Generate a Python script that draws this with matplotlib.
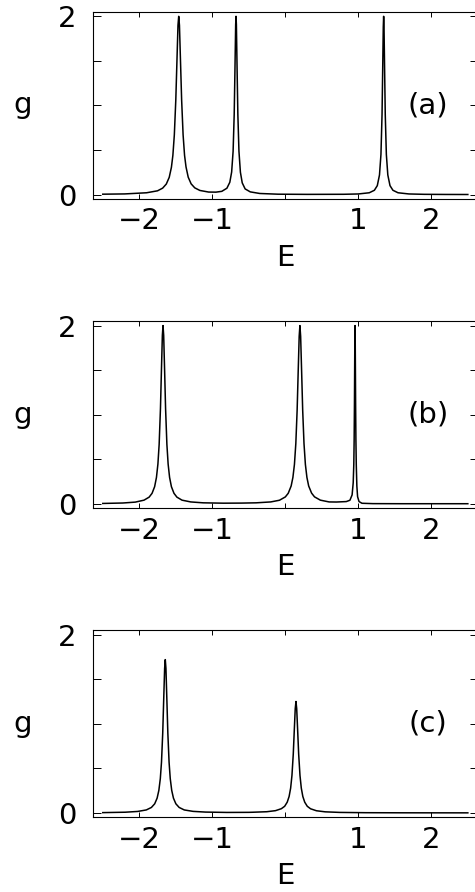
import matplotlib
matplotlib.use("Agg")
import matplotlib.pyplot as plt

# ---- data (E, g) ----
E_a = [-2.5, -2.2, -1.9, -1.75, -1.68, -1.63, -1.59, -1.56, -1.54, -1.52, -1.50,
       -1.485, -1.47, -1.46, -1.45, -1.435, -1.42, -1.40, -1.38, -1.36, -1.33,
       -1.29, -1.24, -1.17, -1.05, -0.95, -0.87, -0.80, -0.76, -0.735, -0.715,
       -0.70, -0.69, -0.68, -0.675, -0.67, -0.66, -0.65, -0.635, -0.615, -0.59,
       -0.55, -0.48, -0.35, -0.1, 0.3, 0.8, 1.0, 1.15, 1.22, 1.26, 1.29, 1.31,
       1.325, 1.335, 1.342, 1.347, 1.352, 1.359, 1.369, 1.384, 1.404, 1.434,
       1.474, 1.544, 1.694, 1.9, 2.2, 2.5]
g_a = [0.004, 0.007, 0.02, 0.042, 0.072, 0.118, 0.193, 0.306, 0.44, 0.67, 1.06,
       1.48, 1.90, 2.0, 1.90, 1.48, 1.06, 0.67, 0.44, 0.31, 0.195,
       0.12, 0.075, 0.046, 0.028, 0.027, 0.036, 0.071, 0.138, 0.253, 0.486,
       0.90, 1.385, 1.906, 2.0, 1.906, 1.385, 0.90, 0.486, 0.25, 0.131,
       0.063, 0.03, 0.012, 0.004, 0.002, 0.003, 0.0066, 0.020, 0.048, 0.10, 0.22, 0.45,
       0.90, 1.47, 1.88, 2.0, 1.88, 1.47, 0.90, 0.45, 0.22, 0.10,
       0.048, 0.020, 0.0066, 0.0026, 0.0011, 0.0005]

E_b = [-2.5, -2.225, -2.055, -1.935, -1.865, -1.825, -1.79, -1.765, -1.745, -1.728,
       -1.71, -1.697, -1.684, -1.675, -1.666, -1.653, -1.64, -1.622, -1.605, -1.585,
       -1.56, -1.525, -1.485, -1.415, -1.295, -1.125, -0.85, -0.6, -0.4, -0.2,
       -0.08, 0.0, 0.04, 0.08, 0.104, 0.125, 0.144, 0.162, 0.176, 0.19, 0.20,
       0.21, 0.224, 0.238, 0.256, 0.275, 0.296, 0.32, 0.36, 0.40, 0.48, 0.6,
       0.7, 0.835, 0.885, 0.915, 0.93, 0.938, 0.943, 0.947, 0.950, 0.953, 0.955,
       0.957, 0.960, 0.963, 0.967, 0.972, 0.98, 0.99, 1.01, 1.05, 1.2, 1.6, 2.0, 2.5]
g_b = [0.004, 0.009, 0.019, 0.041, 0.075, 0.118, 0.192, 0.296, 0.446, 0.667,
       1.07, 1.49, 1.89, 2.0, 1.89, 1.49, 1.07, 0.667, 0.446, 0.296,
       0.192, 0.118, 0.075, 0.041, 0.021, 0.011, 0.007, 0.008, 0.011, 0.021,
       0.04, 0.077, 0.118, 0.2, 0.296, 0.442, 0.676, 1.05, 1.47, 1.88, 2.0,
       1.88, 1.47, 1.05, 0.676, 0.442, 0.296, 0.2, 0.12, 0.078, 0.041, 0.021,
       0.02, 0.025, 0.04, 0.10, 0.236, 0.44, 0.72, 1.12, 1.53, 1.906, 2.0,
       1.906, 1.53, 1.12, 0.72, 0.44, 0.2, 0.08, 0.025, 0.006, 0.002, 0.001, 0.001, 0.001]

E_c = [-2.5, -2.194, -2.024, -1.904, -1.834, -1.789, -1.756, -1.732, -1.712, -1.696,
       -1.679, -1.665, -1.653, -1.644, -1.635, -1.623, -1.609, -1.592, -1.576, -1.556,
       -1.532, -1.499, -1.454, -1.384, -1.264, -1.094, -0.8, -0.5, -0.454, -0.254,
       -0.134, -0.054, -0.009, 0.026, 0.052, 0.073, 0.091, 0.109, 0.123, 0.136, 0.146,
       0.156, 0.169, 0.183, 0.201, 0.219, 0.24, 0.266, 0.301, 0.346, 0.426, 0.546,
       0.746, 1.1, 1.6, 2.0, 2.5]
g_c = [0.003, 0.0075, 0.016, 0.033, 0.061, 0.102, 0.165, 0.253, 0.385, 0.568,
       0.896, 1.29, 1.62, 1.72, 1.62, 1.29, 0.896, 0.568, 0.385, 0.253,
       0.165, 0.102, 0.061, 0.033, 0.017, 0.009, 0.005, 0.006, 0.007, 0.013,
       0.025, 0.047, 0.074, 0.12, 0.184, 0.278, 0.42, 0.659, 0.928, 1.17, 1.25,
       1.17, 0.928, 0.659, 0.42, 0.278, 0.184, 0.12, 0.074, 0.046, 0.024, 0.0118,
       0.0053, 0.0021, 0.0009, 0.0006, 0.0004]

panel_tags = ["(a)", "(b)", "(c)"]
x_ticks = [-2, -1, 0, 1, 2]
x_labels = ["\u22122", "\u22121", "", "1", "2"]
y_ticks = [0, 0.5, 1, 1.5, 2]
y_labels = ["0", "", "", "", "2"]

plt.rcParams["font.family"] = ["DejaVu Sans"]
FS = 21

fig = plt.figure(figsize=(4.75, 8.92), dpi=100)
bottoms = [0.7769, 0.4302, 0.0837]
curves = [(E_a, g_a), (E_b, g_b), (E_c, g_c)]

for bot, (E, g), tag in zip(bottoms, curves, panel_tags):
    ax = fig.add_axes([0.1958, bot, 0.8097, 0.2098])
    ax.plot(E, g, color="black", lw=1.1)
    ax.set_xlim(-2.634, 2.634)
    ax.set_ylim(-0.05, 2.05)
    ax.set_xticks(x_ticks)
    ax.set_xticklabels(x_labels)
    ax.set_yticks(y_ticks)
    ax.set_yticklabels(y_labels)
    ax.tick_params(axis="x", direction="in", top=True, length=3.4, width=0.7,
                   labelsize=FS, pad=6)
    ax.tick_params(axis="y", direction="in", right=True, length=5.5, width=0.7,
                   labelsize=FS, pad=12)
    for s in ax.spines.values():
        s.set_linewidth(0.8)
    ax.set_xlabel("E", fontsize=FS)
    ax.xaxis.set_label_coords(0.5, -0.313)
    ax.xaxis.label.set_va("center")
    ax.set_ylabel("g", fontsize=FS, rotation=0)
    ax.yaxis.set_label_coords(-0.182, 0.5)
    ax.yaxis.label.set_va("center")
    ax.yaxis.label.set_ha("center")
    ax.text(1.95, 1.0, tag, fontsize=FS, ha="center", va="center")

fig.savefig("out.png", dpi=100)
